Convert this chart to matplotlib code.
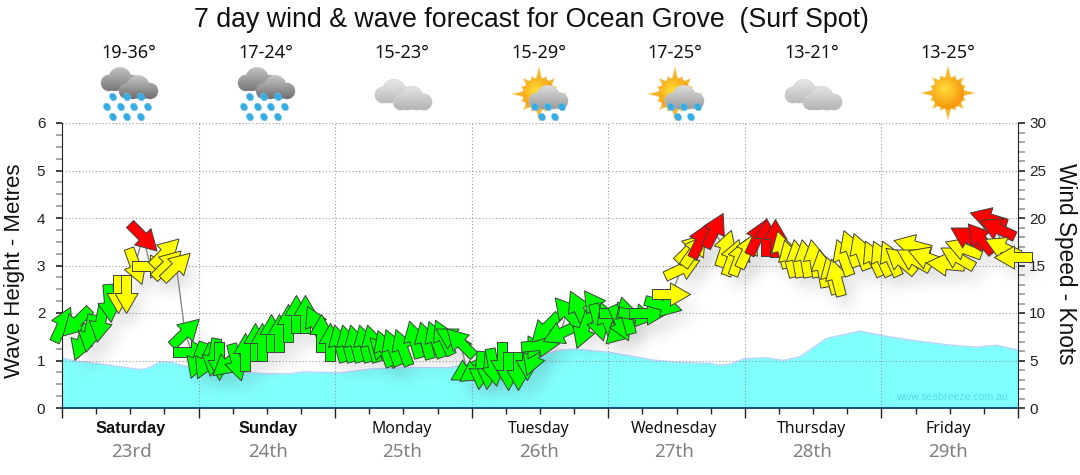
#!/usr/bin/env python3
"""7 day wind and wave forecast chart, Ocean Grove."""

import numpy as np
import matplotlib
matplotlib.use('Agg')
import matplotlib.pyplot as plt
from matplotlib.markers import MarkerStyle
from matplotlib.patches import Ellipse, PathPatch, Polygon
from matplotlib.path import Path
from matplotlib.transforms import Affine2D

day_names = ['Saturday', 'Sunday', 'Monday', 'Tuesday', 'Wednesday', 'Thursday', 'Friday']
day_dates = ['23rd', '24th', '25th', '26th', '27th', '28th', '29th']
temps = ['19-36°', '17-24°', '15-23°', '15-29°', '17-25°', '13-21°', '13-25°']
icons = ['rain', 'rain', 'cloud', 'sunrain', 'sunrain', 'cloud', 'sun']

wave_hours = [0, 2.2, 6, 10.1, 13.7, 15.4, 17.2, 19.2, 22.5, 24.2, 28.6, 35.9, 40, 42.4, 48.9,
              54.1, 60, 68.2, 72.3, 84, 87.5, 90.4, 96.3, 103.9, 108, 113.9, 115.6, 117.4,
              119.7, 123.5, 126.8, 129.7, 134.4, 137.3, 140.2, 144.3, 148.4, 155.5, 160.7,
              164.2, 168]
wave_m = [1.05, 0.99, 0.94, 0.87, 0.81, 0.85, 0.97, 0.96, 0.85, 0.80, 0.78, 0.72, 0.72, 0.76, 0.74,
          0.82, 0.85, 0.85, 0.96, 1.10, 1.22, 1.24, 1.17, 1.01, 0.96, 0.94, 0.90, 0.92,
          1.03, 1.06, 1.00, 1.08, 1.47, 1.54, 1.62, 1.52, 1.44, 1.33, 1.28,
          1.32, 1.22]

wind_hours = [0, 2.4, 3.4, 4.8, 6.6, 8.3, 9.8, 11.2, 12.8, 14.2, 15.6, 18.1, 18.4, 20.1,
              21.6, 22.8, 23.7, 25.1, 26.6, 27.6, 29, 30.5, 32.2, 33.9, 35.1, 36.7, 38.2, 39.8,
              41.2, 42.7, 44.5, 45.6, 47.1, 48.6, 50, 51.5, 53, 54.4, 56.4, 56.5, 58, 59.7,
              61.8, 63.8, 65.5, 67, 68.6, 70, 71.1, 72.6, 73.5, 74.9, 75.8, 77.3, 78.4, 80.2,
              81.7, 82.8, 83.4, 84, 84.9, 87.6, 88.7, 90.7, 91.6, 93.7, 94.2, 95.7, 97.7, 97.8,
              98.1, 99.2, 101, 103, 105.7, 107.1, 108.9, 110.4, 111, 112.1, 114.5, 116.5,
              117.8, 119, 120.3, 122.2, 123.7, 125.3, 126.5, 127.7, 129.1, 130.6, 132.2,
              133.5, 135.1, 136.1, 137.3, 138.5, 140.3, 142.6, 144, 145.5, 147.3, 149.3,
              149.6, 151.9, 155.2, 157.2, 158.4, 159, 161.3, 162.8, 164.3, 165.2, 167.2]
wind_knots = [8.8, 9.1, 7.0, 7.9, 9.0, 11.1, 12.0, 12.0, 14.9, 18.0, 14.9, 16.4, 15.2, 14.9,
              8.0, 5.9, 5.1, 4.9, 5.4, 5.0, 4.7, 4.8, 5.9, 6.9, 7.0, 7.9, 7.9, 8.9,
              9.9, 9.9, 8.9, 7.9, 6.9, 6.8, 6.8, 6.8, 6.8, 6.8, 6.0, 6.3, 6.4, 6.4,
              7.3, 7.2, 7.3, 7.5, 7.4, 7.0, 4.0, 4.0, 4.0, 4.0, 4.3, 5.0, 3.9, 3.9,
              5.0, 5.4, 7.0, 6.6, 8.4, 7.9, 10.1, 10.5, 8.2, 10.7, 9.1, 9.3, 10.0, 8.2,
              8.9, 9.8, 9.8, 10.0, 10.8, 12.0, 14.7, 16.8, 16.6, 17.7, 18.7, 16.8,
              15.9, 15.9, 16.6, 18.0, 18.0, 17.9, 16.7, 15.8, 15.8, 15.8, 15.8,
              14.7, 14.0, 13.8, 15.9, 16.8, 16.5, 15.8, 15.8, 15.8, 15.6, 17.2,
              15.7, 15.9, 15.2, 15.9, 16.8, 18.0, 17.9, 20.0, 18.9, 17.0, 15.9]
wind_dir = [25, 225, 200, 190, 190, 175, 180, 180, 160, 135, 90, 45, 45, 46,
            46, 90, 200, 205, 190, 180, 230, 165, 0, 0, 0, 0, 0, 0,
            0, 0, 335, 0, 0, 345, 345, 345, 345, 345, 315, 340, 340, 340,
            345, 345, 340, 335, 300, 315, 240, 235, 185, 185, 170, 180, 180, 180,
            180, 200, 210, 85, 225, 245, 320, 335, 200, 325, 165, 340, 90, 225,
            155, 345, 100, 90, 105, 90, 65, 45, 35, 25, 27, 18,
            20, 20, 25, 25, 0, 0, 345, 345, 350, 350, 350,
            350, 345, 345, 340, 340, 340, 335, 335, 335, 310, 285,
            300, 290, 275, 300, 290, 300, 320, 287, 295, 295, 270]

W, H = 1080, 475
fig = plt.figure(figsize=(W / 100, H / 100), dpi=100, facecolor='white')
plt.rcParams['font.family'] = ['Liberation Sans', 'DejaVu Sans']

# plot box in pixels: x 62-1018, y 123-408
ax = fig.add_axes([62 / W, 1 - 408 / H, 956 / W, 285 / H])
ax.set_xlim(0, 168)
ax.set_ylim(0, 6)
ax.fill_between(wave_hours, wave_m, color='#80FFFF', lw=0, zorder=1)
ax.plot(wave_hours, wave_m, color='#B4D4FF', lw=1, zorder=1.2)
ax.set_xticks(np.arange(0, 169, 24))
ax.set_xticks(np.arange(0, 169, 6), minor=True)
ax.set_yticks(range(7))
ax.set_yticks(np.arange(0, 6.01, 0.25), minor=True)
ax.grid(True, which='major', color='#999999', ls=(0, (1, 2)), lw=0.8)
ax.tick_params(axis='x', which='major', length=7, width=1, color='#222222', labelbottom=False)
ax.tick_params(axis='x', which='minor', length=4, width=1, color='#222222')
ax.tick_params(axis='y', which='major', length=4, width=1.2, color='#222222', labelsize=11, pad=8,
               labelcolor='#222222')
ax.tick_params(axis='y', which='minor', length=4, width=1.2, color='#999999')
ax.spines['top'].set_visible(False)
ax.spines['right'].set_visible(False)
ax.spines['left'].set_color('#222222')
ax.spines['bottom'].set_color('#003060')
ax.spines['bottom'].set_linewidth(1.2)

ax2 = ax.twinx()
ax2.set_ylim(0, 30)
ax2.set_yticks(range(0, 31, 5))
ax2.set_yticks(range(0, 31), minor=True)
ax2.tick_params(axis='y', which='major', length=5, width=1.2, color='#222222', labelsize=11, pad=3,
                labelcolor='#222222')
ax2.tick_params(axis='y', which='minor', length=5, width=1.2, color='#999999')
ax2.spines['top'].set_visible(False)
ax2.spines['left'].set_visible(False)
ax2.spines['bottom'].set_visible(False)
ax2.spines['right'].set_color('#222222')


def soft_shadow(img, dpi):
    # blur the alpha of one arrow and slide it down and right
    pad = 22
    a = np.pad(img[:, :, 3], pad)
    x = np.arange(-18, 19)
    k = np.exp(-x ** 2 / (2 * 7.0 ** 2))
    k /= k.sum()
    a = np.apply_along_axis(np.convolve, 0, a, k, mode='same')
    a = np.apply_along_axis(np.convolve, 1, a, k, mode='same')
    out = np.zeros(a.shape + (4,))
    out[:, :, :3] = 0.35
    out[:, :, 3] = a * 0.11
    return out, -pad + 9, -pad - 12


arrow_path = Path([(-5, -19), (-5, -1), (-11.5, -1), (0, 19), (11.5, -1), (5, -1), (5, -19), (-5, -19)],
                  closed=True)


def arrow_colour(k):
    if k >= 17.5:
        return '#FF0000'
    if k >= 11.5:
        return '#FFFF00'
    return '#00FF00'


markers = [MarkerStyle(arrow_path, transform=Affine2D().rotate_deg(-b)) for b in wind_dir]

for h, k, m in zip(wind_hours, wind_knots, markers):
    sh, = ax2.plot([h], [k], marker=m, ms=27.4, mfc='black', mec='none', ls='none', zorder=2,
                   clip_on=False)
    sh.set_agg_filter(soft_shadow)

ax2.plot(wind_hours, wind_knots, color='#888888', lw=1, zorder=3, clip_on=False)

for i, (h, k, m) in enumerate(zip(wind_hours, wind_knots, markers)):
    ax2.plot([h], [k], marker=m, ms=27.4, mfc=arrow_colour(k), mec='#404040', mew=0.7, ls='none',
             zorder=4 + i * 0.01, clip_on=False)

# overlay in pixel coordinates for the text and weather icons
ov = fig.add_axes([0, 0, 1, 1], facecolor='none')
ov.axis('off')


def gradient(l, r, t, b, c_top, c_bottom, clip):
    c1 = np.array(matplotlib.colors.to_rgb(c_top))
    c2 = np.array(matplotlib.colors.to_rgb(c_bottom))
    f = np.linspace(0, 1, 64)[:, None, None]
    img = c1[None, None, :] * (1 - f) + c2[None, None, :] * f
    im = ov.imshow(img, extent=(l, r, b, t), origin='upper', aspect='auto', zorder=6)
    im.set_clip_path(clip, transform=ov.transData)


def cloud(cx, cy, c_top, c_bottom):
    lobes = [(-11, 4, 8), (0, 0, 11.5), (12, 4, 8), (5, 4, 8), (-5, 4, 8)]
    p = Path.make_compound_path(*[Path.circle((cx + a, cy + b), r) for a, b, r in lobes])
    ov.add_patch(PathPatch(p, fc=c_bottom, ec='#D4D4D4', lw=0.6, zorder=5.9))
    gradient(cx - 21, cx + 21, cy - 12, cy + 12, c_top, c_bottom, p)


def drops(xs, y):
    for x in xs:
        ov.add_patch(Ellipse((x, y), 6.5, 8, angle=-30, fc='#36ACE2', ec='#6FC4EA', lw=0.4, zorder=7))


def sun(cx, cy):
    pts = []
    radii = [27, 15, 19, 15, 22, 15, 19, 15]
    for i in range(32):
        t = np.pi * 2 * i / 32
        r = radii[i % 8]
        pts.append((cx + r * np.cos(t), cy + r * np.sin(t)))
    ov.add_patch(Polygon(pts, closed=True, fc='#F7B52B', ec='#F7D58A', lw=0.4, zorder=5))
    yy, xx = np.mgrid[-1:1:64j, -1:1:64j]
    d = np.clip(np.hypot(xx + 0.2, yy + 0.25) / 1.15, 0, 1)[:, :, None]
    c1 = np.array(matplotlib.colors.to_rgb('#FFDF3A'))
    c2 = np.array(matplotlib.colors.to_rgb('#F79A0E'))
    im = ov.imshow(c1 * (1 - d) + c2 * d, extent=(cx - 16, cx + 16, cy + 16, cy - 16), origin='upper',
                   aspect='auto', zorder=5.5)
    im.set_clip_path(Path.circle((cx, cy), 16), transform=ov.transData)


columns = [129, 266, 402, 539, 675, 812, 948]
for x, kind, t in zip(columns, icons, temps):
    ov.text(x, 53, t, ha='center', va='center', fontsize=13, family=['Noto Sans', 'DejaVu Sans'],
            color='#111111')
    if kind == 'rain':
        cloud(x - 9, 79, '#C4C4C4', '#777777')
        cloud(x + 9, 87, '#C8C8C8', '#6E6E6E')
        drops([x - 16, x - 2, x + 12], 97)
        drops([x - 22, x - 8, x + 5, x + 19], 107)
        drops([x - 16, x - 2, x + 12], 117)
    elif kind == 'cloud':
        cloud(x - 8, 91, '#E8E8E8', '#BBBBBB')
        cloud(x + 10, 98, '#E4E4E4', '#B4B4B4')
    elif kind == 'sunrain':
        sun(x, 94)
        cloud(x + 9, 97, '#DEDEDE', '#9C9C9C')
        drops([x - 4, x + 9, x + 23], 107)
        drops([x + 3, x + 16], 117)
    else:
        sun(x, 93)

ov.set_xlim(0, W)
ov.set_ylim(H, 0)

ov.text(531, 20, '7 day wind & wave forecast for Ocean Grove  (Surf Spot)', ha='center', va='center',
        fontsize=19.25, color='#111111')
ov.text(15, 271, 'Wave Height - Metres', rotation=90, ha='center', va='center', fontsize=16, color='#111111')
ov.text(1066, 264, 'Wind Speed - Knots', rotation=270, ha='center', va='center', fontsize=16.3, color='#111111')
ov.text(952, 397, 'www.seabreeze.com.au', ha='center', va='center', fontsize=7.6, color='#5AD8E4')

label_x = [131, 268, 402, 539, 674, 812, 948]
for i, (x, d, n) in enumerate(zip(label_x, day_names, day_dates)):
    if i < 2:
        ov.text(x, 429, d, ha='center', va='center', fontsize=11.8, fontweight='bold', color='#111111')
    else:
        ov.text(x, 429, d, ha='center', va='center', fontsize=11.4, family=['Noto Sans', 'DejaVu Sans'],
                color='#111111')
    ov.text(x, 452, n, ha='center', va='center', fontsize=13.5, family=['Noto Sans', 'DejaVu Sans'],
            color='#808080')

fig.savefig('out.png', dpi=100)
plt.close(fig)
